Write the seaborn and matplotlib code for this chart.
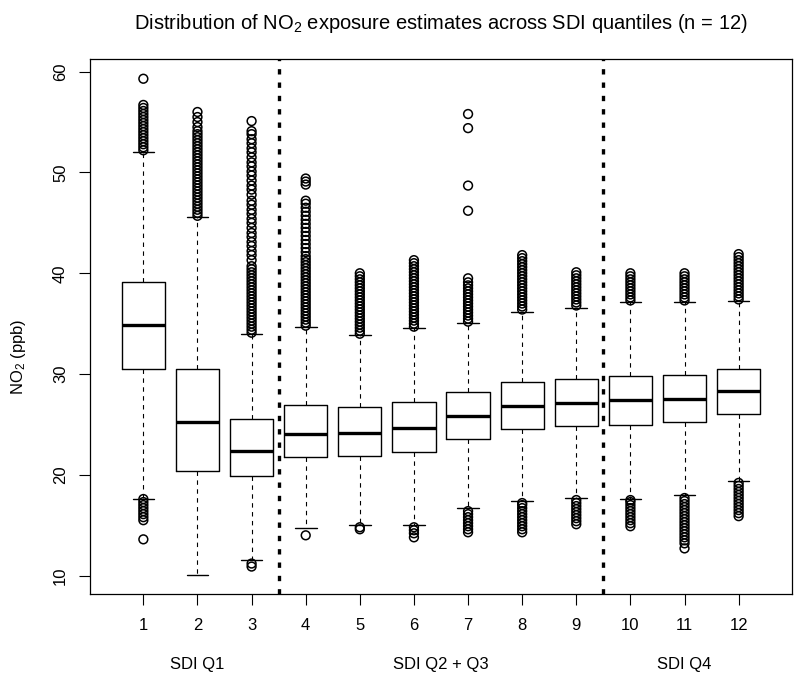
# Boxplot da exposição a NO2 por quantil de SDI (12 grupos)
import numpy as np
import pandas as pd
import matplotlib
matplotlib.use('Agg')
import matplotlib.pyplot as plt
import seaborn as sns

# Estatísticas de cada caixa
grupos = list(range(1, 13))
q1 = [30.5, 20.4, 19.9, 21.8, 21.9, 22.3, 23.6, 24.5, 24.8, 24.9, 25.2, 26.0]
mediana = [34.9, 25.2, 22.4, 24.1, 24.2, 24.6, 25.8, 26.8, 27.1, 27.4, 27.5, 28.3]
q3 = [39.1, 30.5, 25.5, 26.9, 26.7, 27.2, 28.2, 29.2, 29.5, 29.8, 29.9, 30.5]
bigode_inf = [17.6, 10.1, 11.6, 14.7, 15.0, 15.0, 16.7, 17.4, 17.7, 17.6, 18.0, 19.4]
bigode_sup = [52.0, 45.6, 34.0, 34.7, 33.9, 34.6, 35.1, 36.2, 36.6, 37.1, 37.1, 37.2]

# Outliers de cada grupo
out_1 = [13.6, 15.5, 15.8, 16.1, 16.4, 16.7, 17.0, 17.3, 17.6,
         52.2, 52.5, 52.8, 53.1, 53.4, 53.7, 54.0, 54.3, 54.6, 54.9, 55.2,
         55.5, 55.8, 56.1, 56.4, 56.7, 59.3]
out_2 = [45.7, 46.0, 46.3, 46.6, 46.9, 47.2, 47.5, 47.8, 48.1, 48.4, 48.7,
         49.0, 49.3, 49.6, 49.9, 50.2, 50.5, 50.8, 51.1, 51.4, 51.7, 52.0,
         52.3, 52.6, 52.9, 53.2, 53.5, 53.8, 54.1, 54.5, 55.0, 55.5, 56.0]
out_3 = [10.9, 11.2,
         34.1, 34.4, 34.7, 35.0, 35.3, 35.6, 35.9, 36.2, 36.5, 36.8, 37.1,
         37.4, 37.7, 38.0, 38.3, 38.6, 38.9, 39.2, 39.5, 39.8, 40.1, 40.4,
         40.7, 41.3, 41.8, 42.2, 42.7, 43.1, 43.6, 44.0, 44.5, 45.0, 45.4,
         45.9, 46.3, 46.8, 47.2, 47.8, 48.3, 48.7, 49.2, 49.7, 50.1, 50.6,
         51.0, 51.5, 52.0, 52.4, 52.9, 53.3, 53.8, 54.1, 55.1]
out_4 = [14.0,
         34.8, 35.1, 35.4, 35.7, 36.0, 36.3, 36.6, 36.9, 37.2, 37.5, 37.8,
         38.1, 38.4, 38.7, 39.0, 39.3, 39.6, 39.9, 40.2, 40.5, 40.8, 41.1,
         41.4, 41.7, 42.1, 42.5, 42.9, 43.3, 43.7, 44.1, 44.5, 44.9, 45.3,
         45.7, 46.1, 46.5, 46.9, 47.2, 48.8, 49.1, 49.4]
out_5 = [14.6, 14.8,
         34.0, 34.3, 34.6, 34.9, 35.2, 35.5, 35.8, 36.1, 36.4, 36.7, 37.0,
         37.3, 37.6, 37.9, 38.2, 38.5, 38.8, 39.1, 39.4, 39.7, 40.0]
out_6 = [13.8, 14.2, 14.5, 14.8,
         34.7, 35.0, 35.3, 35.6, 35.9, 36.2, 36.5, 36.8, 37.1, 37.4, 37.7,
         38.0, 38.3, 38.6, 38.9, 39.2, 39.5, 39.8, 40.1, 40.4, 40.7, 41.0, 41.3]
out_7 = [14.3, 14.6, 14.9, 15.2, 15.5, 15.8, 16.1, 16.4,
         35.2, 35.5, 35.8, 36.1, 36.4, 36.7, 37.0, 37.3, 37.6, 37.9, 38.2,
         38.5, 38.8, 39.1, 39.5, 46.2, 48.7, 54.4, 55.8]
out_8 = [14.3, 14.6, 14.9, 15.2, 15.5, 15.8, 16.1, 16.4, 16.7, 17.0, 17.2,
         36.4, 36.7, 37.0, 37.3, 37.6, 37.9, 38.2, 38.5, 38.8, 39.1, 39.4,
         39.7, 40.0, 40.3, 40.6, 40.9, 41.2, 41.5, 41.8]
out_9 = [15.1, 15.4, 15.7, 16.0, 16.3, 16.6, 16.9, 17.2, 17.5,
         36.8, 37.1, 37.4, 37.7, 38.0, 38.3, 38.6, 38.9, 39.2, 39.5, 39.8, 40.1]
out_10 = [14.9, 15.2, 15.5, 15.8, 16.1, 16.4, 16.7, 17.0, 17.3, 17.5,
          37.3, 37.6, 37.9, 38.2, 38.5, 38.8, 39.1, 39.4, 39.7, 40.0]
out_11 = [12.7, 13.2, 13.5, 13.8, 14.1, 14.4, 14.7, 15.0, 15.3, 15.6, 15.9,
          16.2, 16.5, 16.8, 17.1, 17.4, 17.7,
          37.3, 37.6, 37.9, 38.2, 38.5, 38.8, 39.1, 39.4, 39.7, 40.0]
out_12 = [15.9, 16.2, 16.5, 16.8, 17.1, 17.4, 17.7, 18.0, 18.3, 18.6, 18.9, 19.2,
          37.4, 37.7, 38.0, 38.3, 38.6, 38.9, 39.2, 39.5, 39.8, 40.1, 40.4,
          40.7, 41.0, 41.3, 41.6, 41.9]
outliers = [out_1, out_2, out_3, out_4, out_5, out_6,
            out_7, out_8, out_9, out_10, out_11, out_12]

# Grupos de SDI
rotulos_sdi = ['SDI Q1', 'SDI Q2 + Q3', 'SDI Q4']
pos_sdi = [2, 6.5, 11]
divisorias = [3.5, 9.5]

sns.set_style('ticks')
plt.rcParams['font.family'] = ['Liberation Sans', 'DejaVu Sans']
plt.rcParams['mathtext.fontset'] = 'custom'
plt.rcParams['mathtext.rm'] = 'Liberation Sans'
plt.rcParams['mathtext.default'] = 'regular'
plt.rcParams['text.color'] = 'black'
plt.rcParams['axes.labelcolor'] = 'black'
plt.rcParams['xtick.color'] = 'black'
plt.rcParams['ytick.color'] = 'black'

fig = plt.figure(figsize=(8, 6.83), dpi=100)
ax = fig.add_axes([0.1129, 0.1299, 0.8767, 0.7833])

stats = []
for i in range(len(grupos)):
    stats.append(dict(med=mediana[i], q1=q1[i], q3=q3[i],
                      whislo=bigode_inf[i], whishi=bigode_sup[i], fliers=[]))

ax.bxp(stats, positions=grupos, widths=0.8, capwidths=0.4, showfliers=False,
       boxprops=dict(color='black', lw=1.0),
       medianprops=dict(color='black', lw=2.4, solid_capstyle='butt'),
       whiskerprops=dict(color='black', lw=0.8, ls=(0, (4, 4))),
       capprops=dict(color='black', lw=1.0))

# Outliers com seaborn
df_out = pd.DataFrame({
    'grupo': np.concatenate([[g] * len(o) for g, o in zip(grupos, outliers)]),
    'no2': np.concatenate(outliers),
})
sns.scatterplot(data=df_out, x='grupo', y='no2', ax=ax, marker='o', s=40,
                facecolor='none', edgecolor='black', linewidth=1.1,
                legend=False, zorder=3)

for d in divisorias:
    ax.axvline(d, color='black', lw=2.4, ls=(0, (1.6, 2.4)), zorder=4)

ax.set_xlim(0.02, 12.98)
ax.set_ylim(8.15, 61.23)
ax.set_xticks(grupos)
ax.set_xticklabels([str(g) for g in grupos])
ax.set_yticks([10, 20, 30, 40, 50, 60])
ax.set_xlabel('')
ax.set_ylabel('')
ax.tick_params(axis='both', direction='out', length=8, width=0.8,
               labelsize=12, color='black', labelcolor='black')
ax.tick_params(axis='x', pad=9)
ax.tick_params(axis='y', pad=8, labelrotation=90)
for lbl in ax.get_yticklabels():
    lbl.set_va('center')
for s in ax.spines.values():
    s.set_visible(True)
    s.set_color('black')
    s.set_linewidth(0.9)

for x, t in zip(pos_sdi, rotulos_sdi):
    ax.text(x, -0.132, t, transform=ax.get_xaxis_transform(),
            ha='center', va='center', fontsize=12, color='black')

fig.text(0.5513, 0.966, 'Distribution of NO$_2$ exposure estimates across SDI quantiles (n = 12)',
         ha='center', va='center', fontsize=14.5, color='black')
fig.text(0.023, 0.478, 'NO$_2$ (ppb)', rotation=90, ha='center', va='center',
         fontsize=12, color='black')

fig.savefig('out.png', dpi=100)
